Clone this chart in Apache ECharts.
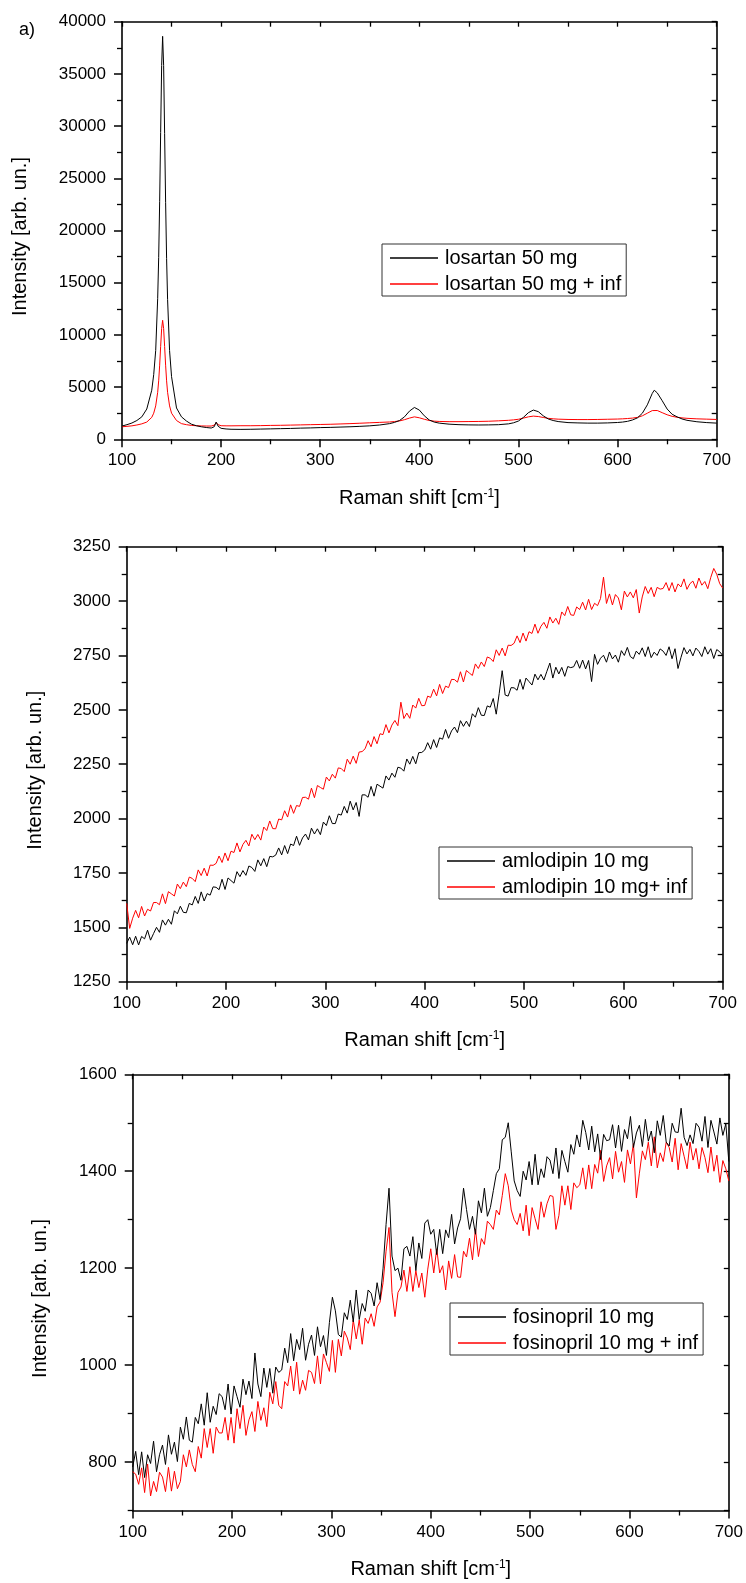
<!DOCTYPE html>
<html><head><meta charset="utf-8">
<script src="https://cdn.jsdelivr.net/npm/echarts@6/dist/echarts.min.js"></script>
<style>html,body{margin:0;padding:0;background:#fff}#c{width:746px;height:1583px}</style>
</head><body><div id="c"></div>
<script>
// ---------- DATA ----------
// panel a) losartan : Raman shift grid (denser around peaks)
const xsLosartan = [100,105,110,115,120,125,130,132,134,136,137,138,139,140,141,142,143,144,145,146,148,150,155,160,165,170,175,180,185,190,193,195,197,200,205,210,220,230,240,250,260,270,280,290,300,310,320,330,340,350,360,370,375,380,385,390,395,400,405,410,415,420,430,440,450,460,470,480,490,495,500,505,510,515,520,525,530,535,540,550,560,570,580,590,600,605,610,615,620,625,630,635,637,640,645,650,655,660,665,670,680,690,700];
const losartan = [1270,1400,1560,1800,2150,2900,4700,6200,8500,13500,17400,22800,29400,35800,38600,35800,29300,22700,17300,13400,8500,6000,3000,2150,1750,1450,1300,1200,1130,1080,1200,1650,1250,1050,990,960,950,960,980,1000,1020,1040,1070,1090,1120,1140,1170,1200,1240,1290,1370,1500,1620,1800,2150,2700,3050,2800,2250,1850,1650,1550,1450,1400,1380,1370,1380,1400,1480,1580,1750,2100,2550,2800,2650,2250,1950,1800,1700,1600,1570,1550,1550,1570,1610,1650,1720,1850,2050,2500,3300,4400,4700,4450,3700,2900,2400,2150,1950,1820,1680,1600,1550];
const losartanInf = [1200,1240,1290,1370,1480,1650,2100,2500,3200,4500,5600,7100,8900,10600,11400,10600,8900,7100,5600,4500,3200,2500,1800,1500,1400,1330,1300,1280,1270,1270,1350,1600,1400,1300,1290,1290,1300,1300,1310,1330,1340,1360,1380,1400,1420,1440,1470,1500,1540,1580,1620,1660,1700,1760,1880,2030,2150,2060,1920,1800,1740,1710,1690,1690,1700,1710,1730,1770,1820,1860,1920,2030,2150,2220,2180,2090,2010,1960,1930,1900,1890,1890,1900,1920,1940,1960,1990,2030,2100,2250,2500,2750,2820,2760,2550,2350,2200,2110,2050,2010,1960,1930,1900];

// panels b) and c): Raman shift grid
const xsShift = [
 100,103,106,109,112,115,118,121,124,127,
 130,133,136,139,142,145,148,151,154,157,
 160,163,166,169,172,175,178,181,184,187,
 190,193,196,199,202,205,208,211,214,217,
 220,223,226,229,232,235,238,241,244,247,
 250,253,256,259,262,265,268,271,274,277,
 280,283,286,289,292,295,298,301,304,307,
 310,313,316,319,322,325,328,331,334,337,
 340,343,346,349,352,355,358,361,364,367,
 370,373,376,379,382,385,388,391,394,397,
 400,403,406,409,412,415,418,421,424,427,
 430,433,436,439,442,445,448,451,454,457,
 460,463,466,469,472,475,478,481,484,487,
 490,493,496,499,502,505,508,511,514,517,
 520,523,526,529,532,535,538,541,544,547,
 550,553,556,559,562,565,568,571,574,577,
 580,583,586,589,592,595,598,601,604,607,
 610,613,616,619,622,625,628,631,634,637,
 640,643,646,649,652,655,658,661,664,667,
 670,673,676,679,682,685,688,691,694,697,
 700];
const amlodipin = [
 1426,1455,1420,1459,1419,1458,1447,1487,1441,1471,
 1500,1477,1534,1510,1537,1514,1576,1562,1597,1569,
 1567,1610,1603,1642,1610,1663,1621,1655,1648,1686,
 1684,1673,1721,1674,1727,1715,1703,1756,1733,1761,
 1739,1782,1775,1757,1810,1783,1816,1779,1826,1824,
 1832,1865,1833,1876,1839,1883,1876,1919,1877,1911,
 1929,1902,1956,1929,1953,1926,1984,1968,2013,1977,
 1977,2021,2016,2056,2025,2080,2040,2074,2010,2109,
 2109,2098,2148,2103,2158,2149,2140,2196,2177,2209,
 2190,2236,2232,2218,2274,2250,2286,2252,2303,2304,
 2315,2349,2319,2363,2327,2371,2365,2410,2369,2403,
 2421,2395,2450,2424,2448,2423,2482,2466,2510,2475,
 2474,2518,2512,2552,2480,2575,2680,2568,2563,2602,
 2601,2590,2640,2594,2646,2630,2614,2664,2638,2663,
 2637,2677,2715,2646,2696,2665,2695,2654,2699,2694,
 2698,2727,2691,2729,2688,2727,2630,2755,2709,2737,
 2751,2719,2766,2734,2752,2719,2772,2750,2787,2745,
 2735,2770,2755,2785,2745,2790,2740,2765,2750,2780,
 2770,2750,2790,2735,2781,2690,2741,2786,2757,2778,
 2748,2784,2769,2745,2790,2756,2781,2736,2777,2767,
 2750];
const amlodipinInf = [
 1610,1495,1542,1578,1544,1596,1552,1583,1575,1614,
 1614,1604,1654,1609,1664,1654,1644,1699,1678,1708,
 1687,1731,1725,1710,1764,1738,1772,1736,1786,1785,
 1794,1828,1798,1842,1806,1850,1844,1888,1847,1881,
 1900,1874,1928,1903,1927,1901,1961,1945,1989,1954,
 1953,1998,1994,2036,2007,2063,2024,2060,2056,2097,
 2098,2089,2140,2096,2152,2143,2135,2191,2173,2204,
 2186,2233,2230,2216,2273,2250,2287,2254,2306,2308,
 2321,2358,2330,2377,2344,2390,2386,2432,2394,2430,
 2451,2427,2535,2460,2485,2461,2522,2508,2553,2519,
 2520,2563,2557,2595,2564,2617,2575,2609,2602,2640,
 2639,2627,2675,2628,2681,2669,2658,2711,2690,2720,
 2699,2743,2737,2722,2776,2750,2784,2748,2797,2796,
 2806,2840,2809,2853,2816,2859,2851,2894,2852,2884,
 2902,2875,2927,2899,2921,2893,2950,2933,2975,2937,
 2934,2973,2961,2995,2959,3008,2961,2990,2979,3012,
 3110,2989,3033,2982,3030,3014,2960,3046,3019,3042,
 3015,3053,2945,3019,3067,3035,3063,3020,3063,3055,
 3058,3085,3048,3085,3042,3079,3065,3102,3054,3080,
 3092,3059,3106,3073,3090,3057,3109,3150,3123,3080,
 3060];
const fosinopril = [
 790,822,774,821,768,815,797,843,780,815,
 835,795,856,816,841,801,872,847,893,845,
 841,892,879,920,876,943,882,915,898,941,
 935,908,961,899,957,935,913,971,939,967,
 931,1025,961,935,994,954,993,942,996,985,
 990,1035,1005,1065,1009,1053,1032,1076,1010,1043,
 1062,1020,1079,1038,1061,1020,1088,1140,1112,1063,
 1058,1108,1094,1134,1089,1155,1094,1127,1111,1155,
 1148,1122,1170,1135,1200,1290,1365,1225,1195,1200,
 1175,1240,1245,1225,1265,1195,1252,1220,1293,1300,
 1270,1280,1228,1280,1230,1279,1263,1311,1250,1283,
 1302,1365,1321,1280,1307,1270,1339,1314,1365,1307,
 1325,1360,1395,1405,1465,1470,1500,1440,1380,1360,
 1348,1400,1382,1420,1372,1435,1372,1405,1387,1430,
 1423,1395,1448,1385,1443,1420,1398,1455,1435,1475,
 1450,1505,1480,1444,1493,1440,1477,1424,1476,1463,
 1465,1496,1448,1495,1441,1486,1467,1513,1449,1479,
 1495,1451,1507,1462,1483,1438,1504,1474,1515,1460,
 1452,1499,1481,1480,1530,1470,1453,1475,1457,1499,
 1491,1462,1513,1449,1505,1481,1456,1510,1474,1498,
 1420];
const fosinoprilInf = [
 780,775,754,788,737,796,730,760,739,779,
 769,739,789,740,781,745,760,815,790,825,
 795,780,832,808,869,830,869,818,872,860,
 860,892,845,892,839,910,869,917,855,887,
 904,863,925,886,912,873,944,920,966,917,
 910,966,957,998,947,1006,940,969,948,989,
 985,962,1019,961,1023,1005,987,1051,985,1053,
 1019,1070,1056,1032,1093,1054,1093,1043,1097,1086,
 1106,1080,1120,1130,1170,1235,1284,1150,1100,1150,
 1161,1196,1152,1203,1152,1195,1160,1190,1140,1198,
 1240,1190,1240,1190,1205,1155,1215,1179,1228,1182,
 1181,1235,1223,1262,1217,1281,1224,1261,1249,1297,
 1290,1280,1320,1310,1350,1395,1370,1320,1300,1290,
 1313,1277,1330,1267,1325,1302,1280,1337,1305,1333,
 1350,1348,1280,1309,1370,1330,1370,1321,1376,1366,
 1372,1407,1363,1413,1364,1414,1396,1443,1379,1411,
 1428,1384,1441,1398,1420,1377,1444,1415,1457,1345,
 1396,1442,1424,1460,1411,1471,1407,1438,1420,1460,
 1449,1419,1468,1403,1457,1431,1405,1460,1423,1447,
 1405,1449,1428,1397,1450,1400,1433,1377,1422,1405,
 1380];

// tick labels of panel c) y-axis and its minor ticks
const fosMajorTicks = [800,1000,1200,1400,1600];
const fosMinorTicks = [700,900,1100,1300,1500];

const seriesNames = [
 ['losartan 50 mg','losartan 50 mg + inf'],
 ['amlodipin 10 mg','amlodipin 10 mg+ inf'],
 ['fosinopril 10 mg','fosinopril 10 mg + inf']
];

// ---------- CHART ----------
const FONT = '"Liberation Sans", Arial, Helvetica, sans-serif';
const BLACK = '#000000', RED = '#ff0000';
const chart = echarts.init(document.getElementById('c'), null, {renderer:'canvas'});

const grids = [
 {left:122, top:21.7, width:594.7, height:417.6},
 {left:126.7, top:546.7, width:596, height:435},
 {left:132.7, top:1074.3, width:596.3, height:436.2}
];
const yNameGaps = [92, 81, 82];

const axisLine = {show:true, onZero:false, lineStyle:{color:'#000', width:1.6}};
const xAxes = [], yAxes = [];
grids.forEach((g, gi) => {
  xAxes.push({
    gridIndex:gi, type:'value', position:'bottom', min:100, max:700, interval:100,
    axisLine, splitLine:{show:false},
    axisTick:{show:true, inside:false, length:8, lineStyle:{color:'#000', width:1.5}},
    minorTick:{show:true, splitNumber:2, length:5, lineStyle:{color:'#000', width:1.3}},
    axisLabel:{color:'#000', fontSize:17, fontFamily:FONT, margin:13, formatter:v => String(v)},
    name:'Raman shift [cm{sup|-1}]', nameLocation:'middle', nameGap:48,
    nameTextStyle:{color:'#000', fontSize:20, fontFamily:FONT,
      rich:{sup:{fontSize:12, fontFamily:FONT, color:'#000', verticalAlign:'top', padding:[0,0,10,0]}}}
  });
  xAxes.push({
    gridIndex:gi, type:'value', position:'top', min:100, max:700, interval:50,
    axisLine, splitLine:{show:false},
    axisTick:{show:true, inside:true, length:5, lineStyle:{color:'#000', width:1.3}},
    axisLabel:{show:false}
  });
});

const yCfg = [
  {min:0, max:40000, interval:5000, mirror:2500},
  {min:1250, max:3250, interval:250, mirror:125},
  {min:700, max:1600, interval:100, mirror:100}
];
yCfg.forEach((c, gi) => {
  const left = {
    gridIndex:gi, type:'value', position:'left', min:c.min, max:c.max, interval:c.interval,
    axisLine, splitLine:{show:false},
    axisTick:{show:true, inside:false, length:8, lineStyle:{color:'#000', width:1.5}},
    minorTick:{show:gi<2, splitNumber:2, length:5, lineStyle:{color:'#000', width:1.3}},
    axisLabel:{color:'#000', fontSize:17, fontFamily:FONT, margin:16, formatter:v => String(v)},
    name:'Intensity [arb. un.]', nameLocation:'middle', nameGap:yNameGaps[gi],
    nameTextStyle:{color:'#000', fontSize:20, fontFamily:FONT, padding:[0,12,0,0]}
  };
  if (gi === 2) {
    left.axisTick.customValues = fosMajorTicks;
    left.axisLabel.customValues = fosMajorTicks;
    left.axisLabel.formatter = v => (fosMajorTicks.indexOf(v) >= 0 ? String(v) : '');
  }
  yAxes.push(left);
  yAxes.push({
    gridIndex:gi, type:'value', position:'right', min:c.min, max:c.max, interval:c.mirror,
    axisLine, splitLine:{show:false},
    axisTick:{show:true, inside:true, length:5, lineStyle:{color:'#000', width:1.3}},
    axisLabel:{show:false}
  });
});
// extra left axis for panel c) minor ticks
yAxes.push({
  gridIndex:2, type:'value', position:'left', min:700, max:1600, interval:100,
  axisLine:{show:false}, splitLine:{show:false},
  axisTick:{show:true, inside:false, length:5, customValues:fosMinorTicks, lineStyle:{color:'#000', width:1.3}},
  axisLabel:{show:false}
});

const pairs = (xs, ys) => xs.map((x, i) => [x, ys[i]]);
const panelData = [
  [pairs(xsLosartan, losartan), pairs(xsLosartan, losartanInf)],
  [pairs(xsShift, amlodipin), pairs(xsShift, amlodipinInf)],
  [pairs(xsShift, fosinopril), pairs(xsShift, fosinoprilInf)]
];
const series = [];
panelData.forEach((pd, gi) => {
  [BLACK, RED].forEach((col, k) => {
    series.push({
      type:'line', name:seriesNames[gi][k], xAxisIndex:gi*2, yAxisIndex:gi*2,
      data:pd[k], symbol:'none', showSymbol:false, color:col,
      lineStyle:{color:col, width:1}, z: k===0 ? 3 : 2
    });
  });
});

const legendPos = [
  {left:382, top:244},
  {left:439, top:847},
  {left:450, top:1303}
];
const legends = legendPos.map((p, gi) => ({
  data:seriesNames[gi].map(n => ({name:n, icon:'rect'})),
  orient:'vertical', left:p.left, top:p.top,
  itemWidth:48, itemHeight:1.3, itemGap:6, padding:[4,5,2,8],
  borderColor:'#333', borderWidth:1, backgroundColor:'#fff', selectedMode:false,
  textStyle:{color:'#000', fontSize:20, fontFamily:FONT, padding:[0,0,0,2]}
}));

chart.setOption({
  backgroundColor:'#ffffff',
  animation:false,
  grid:grids,
  xAxis:xAxes,
  yAxis:yAxes,
  legend:legends,
  series,
  graphic:[{type:'text', left:19, top:21, style:{text:'a)', fontSize:18, fontFamily:FONT, fill:'#000'}}]
});
</script>
</body></html>
